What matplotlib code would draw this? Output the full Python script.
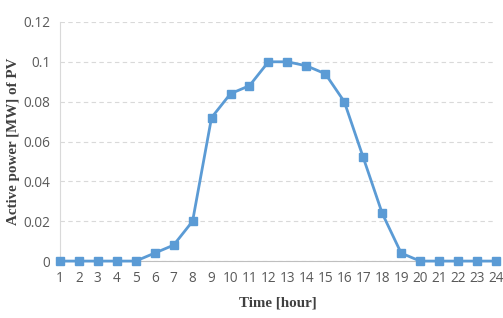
import matplotlib
matplotlib.use("Agg")
import matplotlib.pyplot as plt

hours = list(range(1, 25))
pv_power = [0, 0, 0, 0, 0, 0.004, 0.008, 0.02, 0.072, 0.084, 0.088, 0.1,
            0.1, 0.098, 0.094, 0.08, 0.052, 0.024, 0.004, 0, 0, 0, 0, 0]
y_ticks = [0, 0.02, 0.04, 0.06, 0.08, 0.1, 0.12]
y_labels = ["0", "0.02", "0.04", "0.06", "0.08", "0.1", "0.12"]

blue = "#5B9BD5"
tick_gray = "#595959"

fig = plt.figure(figsize=(5.03, 3.18), dpi=100)
ax = fig.add_axes([0.119, 0.179, 0.867, 0.752])

ax.plot(hours, pv_power, color=blue, lw=2, marker="s", ms=6,
        clip_on=False, zorder=3)

ax.set_xlim(1, 24)
ax.set_ylim(0, 0.12)
ax.set_xticks(hours)
ax.set_yticks(y_ticks)
ax.set_yticklabels(y_labels)
ax.tick_params(length=0, labelsize=9.8, colors=tick_gray, pad=7)
for lab in ax.get_xticklabels() + ax.get_yticklabels():
    lab.set_family("Open Sans")

ax.grid(axis="y", color="#D9D9D9", ls=(0, (4, 3)), lw=0.8)
ax.set_axisbelow(True)
for s in ["top", "right"]:
    ax.spines[s].set_visible(False)
ax.spines["left"].set_color("#D9D9D9")
ax.spines["bottom"].set_color("#BFBFBF")

ax.set_xlabel("Time [hour]", family="Liberation Serif", weight="bold",
              fontsize=10.8, color="#404040", labelpad=8)
ax.set_ylabel("Active power [MW] of PV", family="Liberation Serif",
              weight="bold", fontsize=10.8, color="#404040", labelpad=2)

fig.savefig("out.png", dpi=100)
